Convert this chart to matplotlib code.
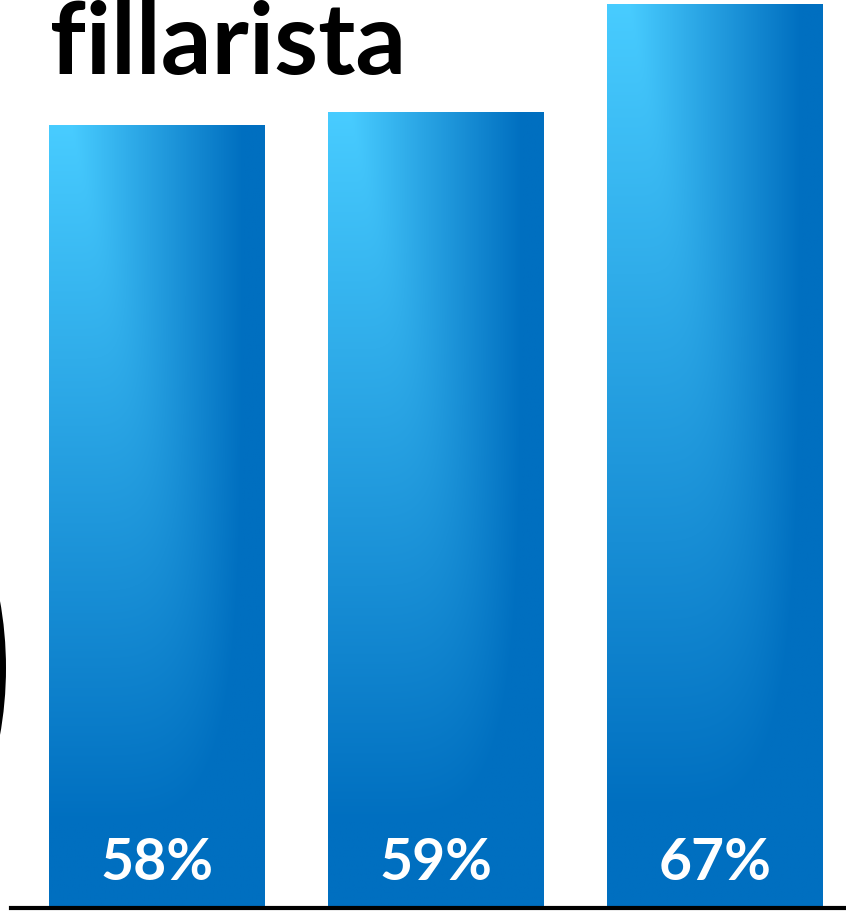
import numpy as np
import matplotlib.pyplot as plt
from matplotlib.patches import Circle

title = 'fillarista'
categories = ['A', 'B', 'C']
values = [58, 59, 67]
labels = ['58%', '59%', '67%']

light = np.array([0x48, 0xCC, 0xFF]) / 255
dark = np.array([0x00, 0x6F, 0xC0]) / 255

fig = plt.figure(figsize=(8.46, 9.11), dpi=100)
ax = fig.add_axes([0, 3 / 911, 1, 908 / 911])
ax.set_xlim(-157 / 279, (846 - 157) / 279)
ax.set_ylim(0, 908 / 13.49)
ax.axis('off')

width = 216 / 279
x = np.arange(len(values))

# gradient: horizontal light->dark, vertical light->dark, soft max of the two
nx, ny = 200, 300
gx = np.linspace(0, 1, nx)
gy = np.linspace(0, 1, ny)
GX, GY = np.meshgrid(gx, gy)
h = np.clip((GX - 0.1) / 0.8, 0, 1)
v = np.clip((1 - GY) * 1.12, 0, 1)
d = np.clip((h ** 5 + v ** 5) ** (1 / 5), 0, 1)
img = light[None, None, :] * (1 - d[..., None]) + dark[None, None, :] * d[..., None]

for xi, val, lab in zip(x, values, labels):
    ax.imshow(img, extent=[xi - width / 2, xi + width / 2, 0, val],
              origin='lower', aspect='auto', interpolation='bilinear', zorder=2)
    ax.text(xi, 44 / 13.49, lab, ha='center', va='center', color='white',
            fontsize=41, fontweight='bold', family='Lato', zorder=3)

ax.axhline(0, xmin=11 / 846, xmax=1, color='black', lw=3, zorder=4, clip_on=False)

fig.text(50 / 846, 1 - 74 / 911, title, ha='left', va='baseline', fontsize=72,
         fontweight='bold', family='Lato', color='black')

# edge of a wheel cut off at the left border
R = 328
wheel = Circle((-322 / 846, 1 - 668 / 911), R / 846, transform=fig.transFigure,
               facecolor='black', edgecolor='none')
fig.add_artist(wheel)

fig.savefig('out.png', dpi=100)
